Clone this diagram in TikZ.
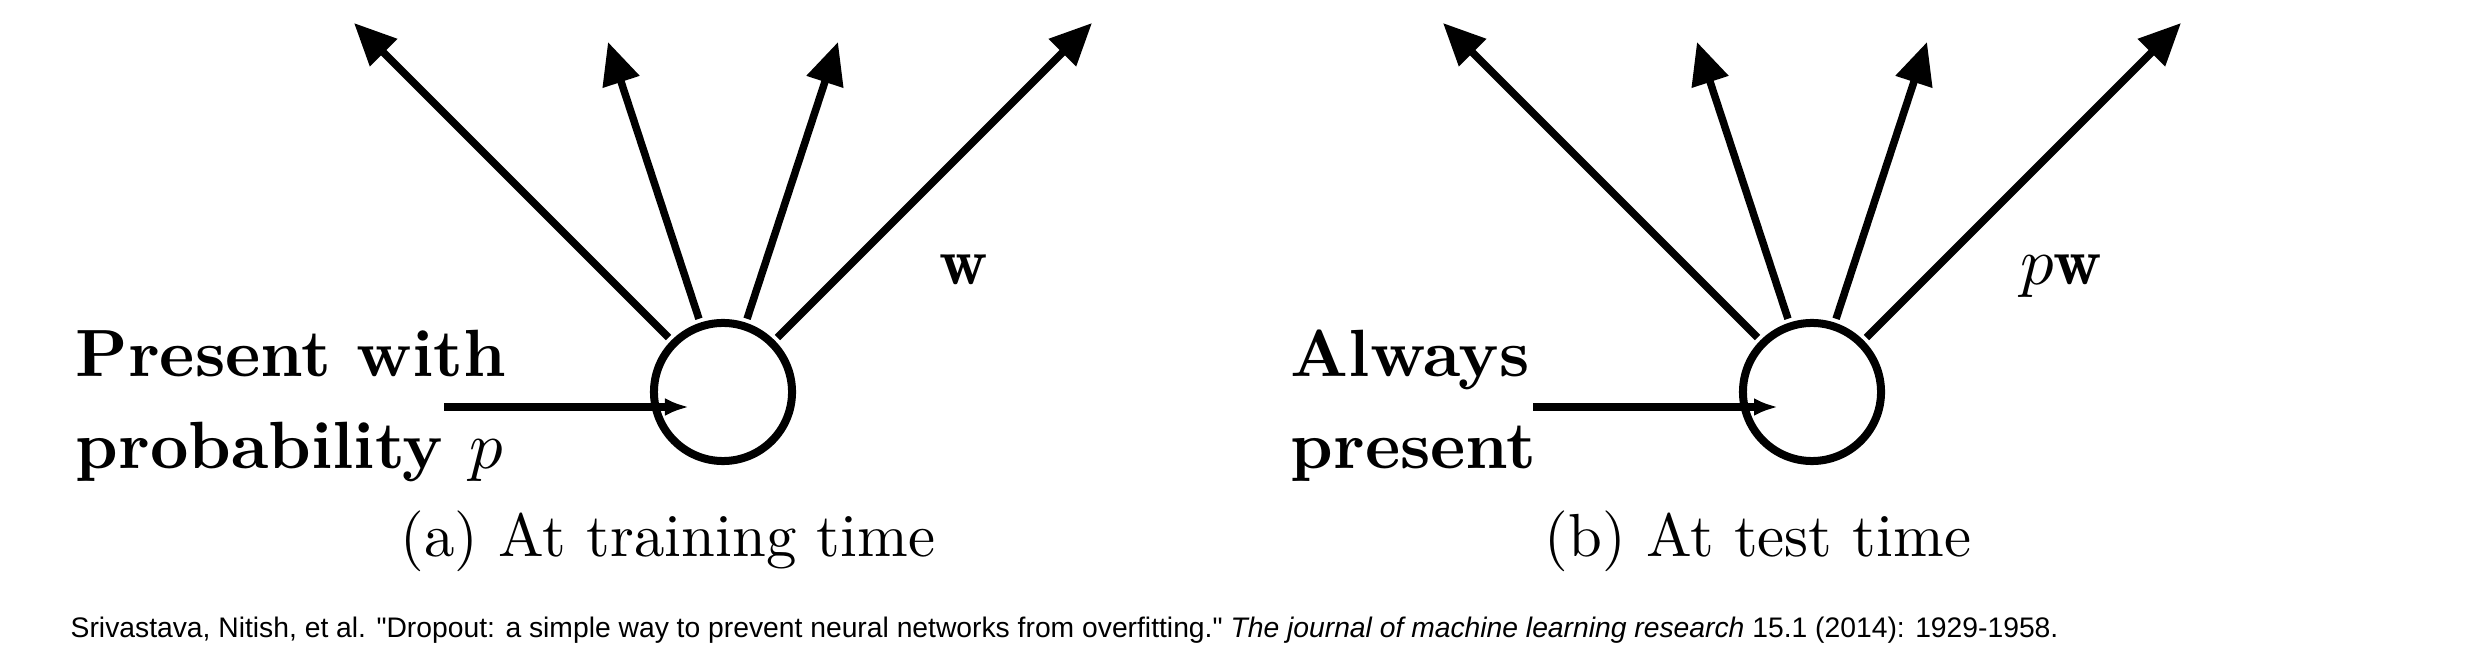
\documentclass[tikz,border=0pt]{standalone}
\usepackage{fontspec}
\newfontfamily\citefont{Liberation Sans}
\usetikzlibrary{arrows.meta}
\newcommand\bigtext[2]{\scalebox{#1}{\fontsize{10}{13.8}\selectfont #2}}
\begin{document}
\begin{tikzpicture}[x=0.01cm,y=-0.01cm,
  neuron/.style={circle,draw,line width=0.08cm,inner sep=0pt,minimum size=1.38cm,outer sep=0.08cm},
  outarrow/.style={line width=0.075cm,-{Triangle[length=0.42cm,width=0.37cm]}},
  inarrow/.style={line width=0.08cm,-{Latex[length=0.24cm,width=0.18cm]}},
  lbl/.style={inner sep=0pt,anchor=base west},
  wlbl/.style={inner sep=0pt,anchor=base},
  caplbl/.style={inner sep=0pt,anchor=base},
  citelbl/.style={font=\citefont\fontsize{8.04}{10}\selectfont,inner sep=0pt,anchor=base west}]
\useasboundingbox (0,0) rectangle (2484,652);
% (a) training
\node[neuron] (cL) at (723,392) {};
\coordinate (l1) at (354,23);
\coordinate (l2) at (608,42);
\coordinate (l3) at (838,42);
\coordinate (l4) at (1092,23);
\foreach \t in {l1,l2,l3,l4} \draw[outarrow] (cL) -- (\t);
\coordinate (inL) at (444,407);
\coordinate (inLend) at (689,407);
\draw[inarrow] (inL) -- (inLend);
\node[lbl] (txtL) at (75,469) {\bigtext{1.9}{\bfseries\begin{tabular}[b]{@{}l@{}}Present with\\probability $p$\end{tabular}}};
\node[wlbl] (wL) at (964,285) {\bigtext{1.9}{$\mathbf{w}$}};
\node[caplbl] (capL) at (668,557) {\bigtext{1.73}{(a) At training time}};
% (b) test
\node[neuron] (cR) at (1812,392) {};
\coordinate (r1) at (1443,23);
\coordinate (r2) at (1697,42);
\coordinate (r3) at (1927,42);
\coordinate (r4) at (2181,23);
\foreach \t in {r1,r2,r3,r4} \draw[outarrow] (cR) -- (\t);
\coordinate (inR) at (1533,407);
\coordinate (inRend) at (1778,407);
\draw[inarrow] (inR) -- (inRend);
\node[lbl] (txtR) at (1290,469) {\bigtext{1.9}{\bfseries\begin{tabular}[b]{@{}l@{}}Always\\present\end{tabular}}};
\node[wlbl] (wR) at (2061,285) {\bigtext{1.9}{$p\mathbf{w}$}};
\node[caplbl] (capR) at (1758,557) {\bigtext{1.73}{(b) At test time}};
% citation
\node[citelbl] (cite) at (70,638) {Srivastava, Nitish, et al. "Dropout: a simple way to prevent neural networks from overfitting." \textit{The journal of machine learning research} 15.1 (2014): 1929-1958.};
\end{tikzpicture}
\end{document}
